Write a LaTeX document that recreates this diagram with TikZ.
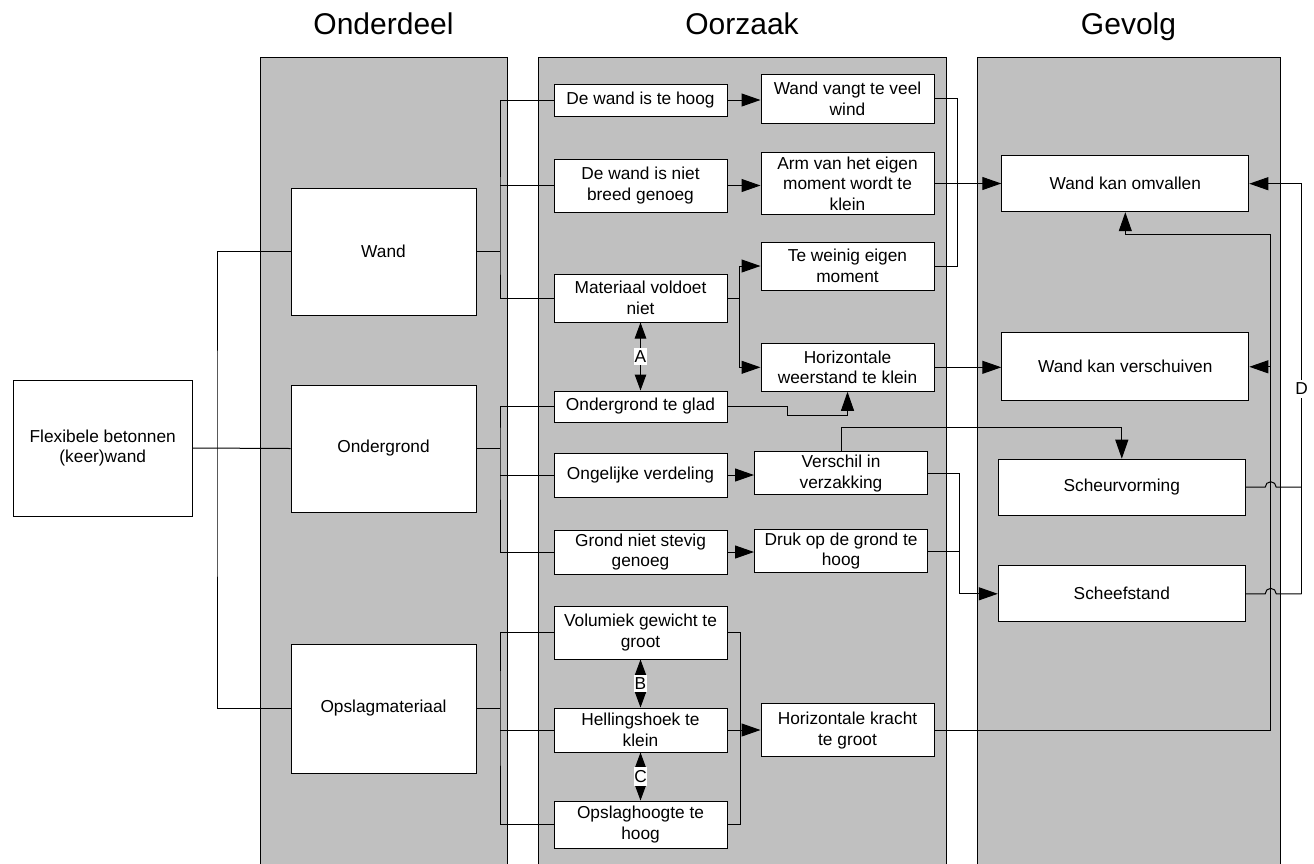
\documentclass[tikz,border=0pt]{standalone}
\usepackage{fontspec}
\setmainfont{Liberation Sans}
\usetikzlibrary{arrows.meta}
\definecolor{lanegray}{RGB}{192,192,192}
\newcommand{\diafont}{\fontsize{17.3}{20.5}\selectfont}
\newcommand{\headfont}{\fontsize{30}{36}\selectfont}
\tikzset{
	lane/.style={draw=black, fill=lanegray, line width=1pt},
	box/.style={draw, fill=white, line width=1pt, align=center, inner sep=2pt, font=\diafont},
	ond/.style={box, minimum width=185pt, minimum height=127pt},
	oor/.style={box, minimum width=173pt},
	gev/.style={box, minimum width=247pt},
	conn/.style={line width=1pt},
	arr/.style={conn, -{Triangle[length=19pt,width=13pt]}},
	dblarr/.style={conn, {Triangle[length=16pt,width=11.5pt]}-{Triangle[length=16pt,width=11.5pt]}},
	lbl/.style={fill=white, inner xsep=0.5pt, inner ysep=3pt, font=\diafont},
	head/.style={anchor=base, font=\headfont}
}
\begin{document}
\begin{tikzpicture}[x=1pt, y=-1pt]
	\useasboundingbox (0,0) rectangle (1314,863);

	% Draw lanes
	\draw[lane] (260,57.8) rectangle (507.5,870);
	\draw[lane] (538,57.8) rectangle (946,870);
	\draw[lane] (977,57.8) rectangle (1280,870);

	% Headings
	\node[head] (hdond) at (383.5,34.5) {Onderdeel};
	\node[head] (hdoor) at (742,34.5) {Oorzaak};
	\node[head] (hdgev) at (1128.5,34.5) {Gevolg};

	% Root
	\node[box, minimum width=179.5pt, minimum height=136pt] (root) at (102.75,448) {Flexibele betonnen\\(keer)wand};

	% Onderdeel
	\node[ond] (wand) at (383.5,251.5) {Wand};
	\node[ond] (ondergrond) at (383.5,448.5) {Ondergrond};
	\node[ond, minimum height=129pt] (opslag) at (383.5,708.5) {Opslagmateriaal};

	% Oorzaak, first column
	\node[oor, minimum height=32pt] (hoog) at (640.5,100) {De wand is te hoog};
	\node[oor, minimum height=53pt] (breed) at (640.5,185.5) {De wand is niet\\breed genoeg};
	\node[oor, minimum height=48pt] (materiaal) at (640.5,298) {Materiaal voldoet\\niet};
	\node[oor, minimum height=31pt] (glad) at (640.5,406.5) {Ondergrond te glad};
	\node[oor, minimum height=44pt] (verdeling) at (640.5,475) {Ongelijke verdeling};
	\node[oor, minimum height=44pt] (stevig) at (640.5,552) {Grond niet stevig\\genoeg};
	\node[oor, minimum height=53pt] (volumiek) at (640.5,632.5) {Volumiek gewicht te\\groot};
	\node[oor, minimum height=44pt] (helling) at (640.5,730) {Hellingshoek te\\klein};
	\node[oor, minimum height=47pt] (opslaghoogte) at (640.5,824.5) {Opslaghoogte te\\hoog};

	% Oorzaak, second column
	\node[oor, minimum height=49pt] (wind) at (847.5,98.7) {Wand vangt te veel\\wind};
	\node[oor, minimum height=62pt] (arm) at (847.5,183.5) {Arm van het eigen\\moment wordt te\\klein};
	\node[oor, minimum height=48pt] (weinig) at (847.5,266) {Te weinig eigen\\moment};
	\node[oor, minimum height=48pt] (weerstand) at (847.5,367.3) {Horizontale\\weerstand te klein};
	\node[oor, minimum height=43pt] (verschil) at (841,473.4) {Verschil in\\verzakking};
	\node[oor, minimum height=43pt] (druk) at (841,551) {Druk op de grond te\\hoog};
	\node[oor, minimum height=53pt] (kracht) at (847.5,730.4) {Horizontale kracht\\te groot};

	% Gevolg
	\node[gev, minimum height=56pt] (omvallen) at (1125.3,183.7) {Wand kan omvallen};
	\node[gev, minimum height=68pt] (verschuiven) at (1125.3,366.8) {Wand kan verschuiven};
	\node[gev, minimum height=56pt] (scheur) at (1121.8,487.2) {Scheurvorming};
	\node[gev, minimum height=56pt] (scheef) at (1121.8,593.8) {Scheefstand};

	% Bus points
	\coordinate (rootbus) at (217,448);
	\coordinate (wandbus) at (500,251.5);
	\coordinate (ondbus) at (500,448.5);
	\coordinate (opsbus) at (500,708.5);
	\coordinate (matbus) at (739,298);
	\coordinate (windbus) at (957,183.5);
	\coordinate (zakbus) at (959.7,551);
	\coordinate (krachtbus) at (1270.7,366.8);
	\coordinate (dbus) at (1301.7,593.8);

	% Root to Onderdeel
	\draw[conn] (root.east) -- (ondergrond.west);
	\draw[conn] (wand.west) -| (rootbus) |- (opslag.west);

	% Onderdeel to Oorzaak
	\draw[conn] (wand.east) -- (wandbus);
	\draw[conn] (hoog.west) -| (wandbus) |- (materiaal.west);
	\draw[conn] (breed.west) -- (breed.west -| wandbus);
	\draw[conn] (ondergrond.east) -- (ondbus);
	\draw[conn] (glad.west) -| (ondbus) |- (stevig.west);
	\draw[conn] (verdeling.west) -- (verdeling.west -| ondbus);
	\draw[conn] (opslag.east) -- (opsbus);
	\draw[conn] (volumiek.west) -| (opsbus) |- (opslaghoogte.west);
	\draw[conn] (helling.west) -- (helling.west -| opsbus);

	% Within Oorzaak
	\draw[arr] (hoog.east) -- (hoog.east -| wind.west);
	\draw[arr] (breed.east) -- (breed.east -| arm.west);
	\draw[conn] (materiaal.east) -- (matbus);
	\draw[arr] (matbus) |- (weinig.west);
	\draw[arr] (matbus) |- (weerstand.west);
	\draw[dblarr] (materiaal.south) -- node[lbl] {A} (glad.north);
	\draw[arr] (glad.east) -- ++(60,0) -- ++(0,8.5) -| (weerstand.south);
	\draw[arr] (verdeling.east) -- (verdeling.east -| verschil.west);
	\draw[arr] (stevig.east) -- (stevig.east -| druk.west);
	\draw[conn] (volumiek.east) -- ++(13,0) |- (opslaghoogte.east);
	\draw[arr] (helling.east) -- (helling.east -| kracht.west);
	\draw[dblarr] (volumiek.south) -- node[lbl] {B} (helling.north);
	\draw[dblarr] (helling.south) -- node[lbl] {C} (opslaghoogte.north);

	% Oorzaak to Gevolg
	\draw[conn] (wind.east) -| (windbus) |- (weinig.east);
	\draw[arr] (arm.east) -- (arm.east -| omvallen.west);
	\draw[arr] (weerstand.east) -- (weerstand.east -| verschuiven.west);
	\draw[arr] (verschil.north) -- ++(0,-23.7) -| (scheur.north);
	\draw[conn] (verschil.east) -| (zakbus);
	\draw[conn] (druk.east) -- (zakbus);
	\draw[arr] (zakbus) |- (scheef.west);
	\draw[conn] (kracht.east) -| (krachtbus);
	\draw[arr] (krachtbus) -- (verschuiven.east);
	\draw[arr] (krachtbus) -- ++(0,-132.5) -| (omvallen.south);

	% Feedback D
	\draw[conn] (scheur.east) -- ([xshift=-5.5pt]scheur.east -| krachtbus) arc[start angle=180, end angle=0, radius=5.5pt] -- (scheur.east -| dbus);
	\draw[conn] (scheef.east) -- ([xshift=-5.5pt]scheef.east -| krachtbus) arc[start angle=180, end angle=0, radius=5.5pt] -- (dbus);
	\draw[arr] (dbus) |- node[lbl, pos=0.25] {D} (omvallen.east);
\end{tikzpicture}
\end{document}
